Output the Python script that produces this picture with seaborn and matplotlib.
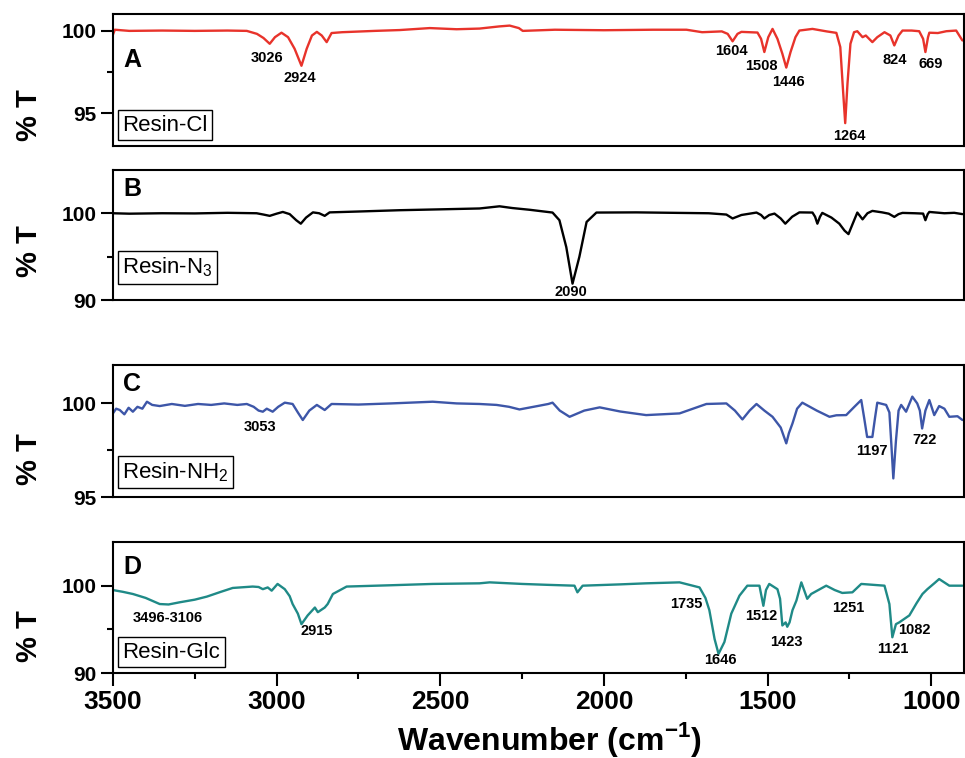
import matplotlib
matplotlib.use("Agg")
import matplotlib.pyplot as plt
import seaborn as sns
from matplotlib.ticker import MultipleLocator, FixedLocator, NullLocator

# ---- spectrum A : Resin-Cl ----
wn_a = [3500, 3494, 3450, 3350, 3250, 3150, 3091, 3060, 3040, 3021,
        3005, 2985, 2965, 2945, 2924, 2908, 2892, 2877, 2862, 2847,
        2832, 2800, 2700, 2624, 2532, 2450, 2380, 2320, 2288, 2260,
        2248, 2150, 2000, 1850, 1748, 1700, 1640, 1622, 1607, 1592,
        1580, 1531, 1520, 1510, 1498, 1485, 1470, 1455, 1443, 1430,
        1415, 1403, 1363, 1320, 1290, 1278, 1270, 1263, 1256, 1247,
        1236, 1226, 1210, 1200, 1180, 1165, 1143, 1125, 1113, 1100,
        1088, 1060, 1037, 1025, 1018, 1010, 1006, 980, 954, 924,
        905]
t_a = [99.75, 100.05, 99.98, 100.0, 99.98, 100.0, 99.98, 99.8, 99.55, 99.2,
       99.6, 99.87, 99.6, 98.9, 97.87, 98.9, 99.7, 99.92, 99.7, 99.3,
       99.85, 99.9, 99.98, 100.03, 100.15, 100.08, 100.12, 100.25, 100.3, 100.15,
       99.98, 100.05, 100.02, 100.05, 100.05, 99.9, 99.95, 99.8, 99.35, 99.8,
       99.92, 99.88, 99.5, 98.7, 99.6, 100.1, 99.5, 98.6, 97.76, 98.7,
       99.6, 100.0, 100.1, 99.95, 99.86, 99.0, 96.5, 94.4, 96.8, 99.2,
       99.9, 99.96, 99.6, 99.7, 99.3, 99.6, 99.9, 99.7, 99.1, 99.7,
       100.0, 100.0, 99.96, 99.5, 98.7, 99.6, 99.87, 99.85, 99.96, 100.0,
       99.4]

# ---- spectrum B : Resin-N3 ----
wn_b = [3500, 3450, 3350, 3250, 3150, 3061, 3040, 3021, 3000, 2981,
        2960, 2940, 2926, 2910, 2889, 2870, 2853, 2838, 2750, 2624,
        2500, 2380, 2319, 2280, 2227, 2157, 2136, 2115, 2096, 2075,
        2053, 2023, 1900, 1769, 1680, 1626, 1607, 1580, 1534, 1520,
        1510, 1495, 1479, 1460, 1446, 1425, 1403, 1363, 1355, 1348,
        1340, 1333, 1305, 1281, 1265, 1253, 1240, 1226, 1210, 1195,
        1180, 1150, 1130, 1113, 1100, 1088, 1050, 1025, 1018, 1011,
        1006, 960, 930, 905]
t_b = [100.0, 99.95, 100.0, 99.98, 100.05, 100.0, 99.85, 99.7, 99.95, 100.15,
       99.9, 99.2, 98.8, 99.5, 100.1, 100.0, 99.7, 100.1, 100.2, 100.35,
       100.45, 100.55, 100.8, 100.6, 100.4, 100.08, 99.2, 96.1, 91.9, 95.0,
       99.0, 100.08, 100.1, 100.04, 100.0, 99.85, 99.4, 99.8, 100.08, 99.8,
       99.4, 99.8, 99.96, 99.4, 98.8, 99.6, 100.1, 100.08, 99.6, 98.8,
       99.6, 100.04, 99.5, 98.8, 98.0, 97.6, 98.8, 100.08, 99.3, 100.0,
       100.27, 100.1, 99.95, 99.58, 99.9, 100.04, 100.0, 99.96, 99.2, 99.9,
       100.15, 100.0, 100.05, 99.9]

# ---- spectrum C : Resin-NH2 ----
wn_c = [3500, 3490, 3479, 3465, 3452, 3439, 3425, 3410, 3396, 3380,
        3357, 3320, 3280, 3240, 3200, 3160, 3120, 3091, 3070, 3055,
        3042, 3030, 3012, 2995, 2975, 2951, 2935, 2920, 2900, 2877,
        2853, 2832, 2750, 2650, 2523, 2450, 2380, 2328, 2290, 2258,
        2200, 2170, 2157, 2135, 2105, 2060, 2013, 1950, 1871, 1769,
        1687, 1626, 1600, 1577, 1555, 1534, 1510, 1485, 1460, 1443,
        1435, 1424, 1410, 1394, 1350, 1311, 1290, 1260, 1235, 1214,
        1205, 1196, 1180, 1172, 1165, 1138, 1128, 1122, 1116, 1108,
        1100, 1092, 1077, 1058, 1043, 1035, 1028, 1018, 1006, 991,
        976, 960, 945, 920, 905]
t_c = [99.45, 99.7, 99.63, 99.4, 99.75, 99.54, 99.8, 99.7, 100.07, 99.9,
       99.84, 99.95, 99.85, 99.95, 99.9, 99.98, 99.9, 99.95, 99.8, 99.6,
       99.54, 99.7, 99.54, 99.8, 100.02, 99.95, 99.5, 99.1, 99.6, 99.9,
       99.63, 99.95, 99.92, 99.98, 100.07, 99.98, 99.95, 99.9, 99.8, 99.66,
       99.85, 99.95, 100.02, 99.6, 99.27, 99.6, 99.77, 99.55, 99.36, 99.45,
       99.95, 99.98, 99.6, 99.13, 99.6, 99.95, 99.6, 99.27, 98.7, 97.86,
       98.4, 98.92, 99.7, 100.02, 99.6, 99.27, 99.35, 99.36, 99.8, 100.16,
       99.2, 98.2, 98.2, 99.2, 100.02, 99.9, 99.5, 97.8, 96.0, 98.0,
       99.6, 99.9, 99.54, 100.34, 99.98, 99.6, 98.65, 99.6, 100.16, 99.36,
       99.84, 99.7, 99.27, 99.3, 99.1]

# ---- spectrum D : Resin-Glc ----
wn_d = [3500, 3470, 3439, 3400, 3357, 3330, 3296, 3250, 3213, 3170,
        3134, 3073, 3055, 3042, 3027, 3015, 2997, 2975, 2960, 2951,
        2935, 2924, 2905, 2883, 2874, 2853, 2844, 2828, 2786, 2650,
        2523, 2380, 2349, 2250, 2175, 2090, 2081, 2065, 1950, 1871,
        1769, 1729, 1708, 1690, 1678, 1662, 1650, 1632, 1611, 1586,
        1562, 1525, 1513, 1505, 1495, 1470, 1462, 1455, 1445, 1440,
        1433, 1424, 1412, 1397, 1379, 1367, 1321, 1295, 1272, 1241,
        1214, 1143, 1128, 1119, 1108, 1098, 1067, 1045, 1027, 1012,
        990, 976, 945, 905]
t_d = [99.5, 99.3, 99.05, 98.6, 97.9, 97.85, 98.1, 98.4, 98.75, 99.3,
       99.74, 99.9, 99.85, 99.6, 99.8, 99.43, 100.2, 99.6, 98.8, 97.9,
       96.8, 95.6, 96.6, 97.5, 96.97, 97.5, 97.9, 99.05, 99.9, 100.05,
       100.2, 100.27, 100.38, 100.2, 100.1, 100.0, 99.24, 100.0, 100.15, 100.27,
       100.38, 100.0, 99.8, 98.6, 97.2, 93.9, 92.2, 93.56, 96.8, 98.86,
       100.0, 100.0, 97.7, 99.5, 100.2, 99.6, 98.5, 95.45, 95.8, 95.3,
       95.8, 97.2, 98.3, 100.38, 98.5, 99.05, 100.0, 99.5, 99.17, 99.24,
       100.2, 100.0, 97.9, 94.1, 95.6, 95.8, 96.6, 98.0, 99.05, 99.6,
       100.3, 100.76, 100.0, 100.0]

# ---- peak annotations (text, wavenumber position, %T position) ----
peaks_a = ["3026", "2924", "1604", "1508", "1446", "1264", "824", "669"]
peaks_a_x = [3030, 2929, 1611, 1519, 1437, 1250, 1113, 1003]
peaks_a_y = [98.35, 97.13, 98.78, 97.87, 96.9, 93.6, 98.2, 97.99]

peaks_b = ["2090"]
peaks_b_x = [2102]
peaks_b_y = [90.9]

peaks_c = ["3053", "1197", "722"]
peaks_c_x = [3051, 1180, 1021]
peaks_c_y = [98.72, 97.45, 98.03]

peaks_d = ["3496-3106", "2915", "1735", "1646", "1512", "1423", "1251", "1082", "1121"]
peaks_d_x = [3332, 2877, 1748, 1644, 1519, 1443, 1253, 1052, 1119]
peaks_d_y = [96.36, 94.77, 97.95, 91.5, 96.5, 93.6, 97.5, 94.9, 92.8]

sns.set_style("ticks")
plt.rcParams['font.family'] = ['Liberation Sans', 'DejaVu Sans']
plt.rcParams['mathtext.fontset'] = 'custom'
plt.rcParams['mathtext.rm'] = 'Liberation Sans'
plt.rcParams['mathtext.bf'] = 'Liberation Sans:bold'
# plain black text, seaborn's default is dark grey
for key in ['text.color', 'axes.labelcolor', 'xtick.color', 'ytick.color']:
    plt.rcParams[key] = 'black'

fig = plt.figure(figsize=(9.65, 7.58), dpi=100)

panels = [
    # wn, t, colour, letter, name, ylim, major, minor, axes rect, letter y, name y, peaks, "% T" y
    (wn_a, t_a, "#e8332b", "A", "Resin-Cl", (93, 101), [95, 100], [97.5],
     [0.117, 0.807, 0.882, 0.1745], 0.65, 0.16, (peaks_a, peaks_a_x, peaks_a_y), 0.848),
    (wn_b, t_b, "black", "B", "Resin-N$_3$", (90, 105), [90, 100], [95],
     [0.117, 0.604, 0.882, 0.172], 0.85, 0.25, (peaks_b, peaks_b_x, peaks_b_y), 0.669),
    (wn_c, t_c, "#3d56a8", "C", "Resin-NH$_2$", (95, 102), [95, 100], [97.5],
     [0.117, 0.344, 0.882, 0.174], 0.86, 0.19, (peaks_c, peaks_c_x, peaks_c_y), 0.394),
    (wn_d, t_d, "#1f8a87", "D", "Resin-Glc", (90, 105), [90, 100], [95],
     [0.117, 0.112, 0.882, 0.173], 0.81, 0.16, (peaks_d, peaks_d_x, peaks_d_y), 0.161),
]

for i, (wn, t, col, letter, name, ylim, major, minor, rect, ly, ny, pk, laby) in enumerate(panels):
    ax = fig.add_axes(rect)
    sns.lineplot(x=wn, y=t, ax=ax, color=col, linewidth=1.7, sort=False)
    ax.set_xlim(3500, 900)
    ax.set_ylim(*ylim)
    ax.set_xlabel("")
    ax.set_ylabel("")

    for sp in ax.spines.values():
        sp.set_linewidth(1.5)
        sp.set_color("black")

    ax.yaxis.set_major_locator(FixedLocator(major))
    ax.yaxis.set_minor_locator(FixedLocator(minor))
    ax.tick_params(axis='y', which='major', direction='out', length=9, width=1.5,
                   labelsize=15, pad=3)
    ax.tick_params(axis='y', which='minor', direction='out', length=4.5, width=1.5)
    for lab in ax.get_yticklabels():
        lab.set_fontweight('bold')

    if i == 3:
        ax.xaxis.set_major_locator(MultipleLocator(500))
        ax.xaxis.set_minor_locator(MultipleLocator(250))
        ax.tick_params(axis='x', which='major', direction='out', length=9, width=1.5,
                       labelsize=19, pad=3)
        ax.tick_params(axis='x', which='minor', direction='out', length=4.5, width=1.5)
        for lab in ax.get_xticklabels():
            lab.set_fontweight('bold')
    else:
        ax.xaxis.set_major_locator(NullLocator())
        ax.xaxis.set_minor_locator(NullLocator())

    ax.text(0.012, ly, letter, transform=ax.transAxes, fontsize=18,
            fontweight='bold', ha='left', va='center')
    ax.text(0.011, ny, name, transform=ax.transAxes, fontsize=16,
            ha='left', va='center',
            bbox=dict(boxstyle='square,pad=0.2', facecolor='white',
                      edgecolor='black', linewidth=1))

    for txt, px, py in zip(*pk):
        ax.text(px, py, txt, fontsize=10.5, fontweight='bold',
                ha='center', va='center')

    fig.text(0.030, laby, "% T", rotation=90, fontsize=21, fontweight='bold',
             ha='center', va='center')

fig.text(0.569, 0.011, r"Wavenumber (cm$^{\mathbf{-1}}$)", fontsize=23,
         fontweight='bold', ha='center', va='baseline')

fig.savefig("out.png", dpi=100)
